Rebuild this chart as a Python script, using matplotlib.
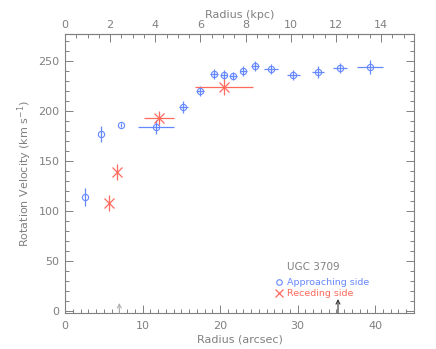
import matplotlib
matplotlib.use('Agg')
import matplotlib.pyplot as plt
from matplotlib.ticker import MultipleLocator

# ---- data ----
appr_r = [2.6, 4.7, 7.2, 11.7, 15.25, 17.4, 19.25, 20.45, 21.65, 23.0, 24.5, 26.55, 29.45, 32.65, 35.45, 39.3]
appr_v = [114, 177, 186, 184, 204, 220, 237, 236, 235, 240, 245, 242, 236, 239, 243, 244]
appr_rerr = [0, 0, 0, 2.3, 0.55, 0.55, 0.5, 0.5, 0.5, 0.5, 0.5, 0.85, 0.85, 0.8, 0.85, 1.7]
appr_verr = [9, 8, 2, 7, 6, 5, 5, 5, 4, 5, 5, 5, 5, 6, 5, 7]

rec_r = [5.7, 6.65, 12.15, 20.5]
rec_v = [108, 139, 193, 224]
rec_rerr = [0, 0, 1.9, 3.75]
rec_verr = [8, 8, 7, 8]

arrow_r = [7.0, 35.2]
arrow_tip = [8, 12]
arrow_colors = ['#b0b0b0', '#333333']

kpc_per_arcsec = 0.3436
galaxy = 'UGC 3709'
labels = ['Approaching side', 'Receding side']

blue = '#6688ff'
red = '#ff6a5c'
gray = '#808080'

fig = plt.figure(figsize=(4.36, 3.49), dpi=100)
ax = fig.add_axes([65/436, 36/349, 349/436, 279/349])

ax.errorbar(appr_r, appr_v, xerr=appr_rerr, yerr=appr_verr, fmt='o', mfc='none',
            mec=blue, ecolor=blue, ms=4.5, mew=0.8, elinewidth=0.9, capsize=0)
ax.errorbar(rec_r, rec_v, xerr=rec_rerr, yerr=rec_verr, fmt='x',
            mec=red, ecolor=red, ms=7, mew=0.9, elinewidth=0.9, capsize=0)

for x, t, c in zip(arrow_r, arrow_tip, arrow_colors):
    ax.annotate('', xy=(x, t), xytext=(x, -2),
                arrowprops=dict(arrowstyle='->', color=c, lw=0.8,
                                shrinkA=0, shrinkB=0, mutation_scale=7))

ax.set_xlim(0, 45)
ax.set_ylim(-2, 277)

for s in ax.spines.values():
    s.set_color(gray)
    s.set_linewidth(0.8)

ax.xaxis.set_major_locator(MultipleLocator(10))
ax.xaxis.set_minor_locator(MultipleLocator(1))
ax.yaxis.set_major_locator(MultipleLocator(50))
ax.yaxis.set_minor_locator(MultipleLocator(10))
ax.tick_params(axis='both', which='both', direction='in', colors=gray,
               labelcolor=gray, labelsize=8, width=0.7)
ax.tick_params(axis='x', which='both', top=False)
ax.tick_params(axis='y', which='both', right=True)
ax.tick_params(which='major', length=6)
ax.tick_params(which='minor', length=3)
ax.tick_params(axis='x', pad=6)
ax.tick_params(axis='y', pad=4)

ax.set_xlabel('Radius (arcsec)', color=gray, fontsize=8, labelpad=2)
ax.set_ylabel('Rotation Velocity (km s$^{-1}$)', color=gray, fontsize=8, labelpad=3)

sec = ax.secondary_xaxis('top', functions=(lambda x: x * kpc_per_arcsec,
                                           lambda x: x / kpc_per_arcsec))
sec.xaxis.set_major_locator(MultipleLocator(2))
sec.xaxis.set_minor_locator(MultipleLocator(0.5))
sec.tick_params(axis='x', which='both', direction='in', colors=gray,
                labelcolor=gray, labelsize=8, width=0.7, pad=3)
sec.tick_params(which='major', length=6)
sec.tick_params(which='minor', length=3)
sec.spines['top'].set_color(gray)
sec.set_xlabel('Radius (kpc)', color=gray, fontsize=8, labelpad=1)

# legend (manual, as in the reference)
ax.text(0.636, 0.165, galaxy, transform=ax.transAxes, color=gray, fontsize=7.5,
        va='center', ha='left')
ax.plot([0.612], [0.111], transform=ax.transAxes, marker='o', mfc='none', mec=blue,
        ms=4, mew=0.8, clip_on=False)
ax.text(0.636, 0.111, labels[0], transform=ax.transAxes, color=blue, fontsize=6.8,
        va='center', ha='left')
ax.plot([0.612], [0.071], transform=ax.transAxes, marker='x', mec=red,
        ms=6, mew=0.9, clip_on=False)
ax.text(0.636, 0.071, labels[1], transform=ax.transAxes, color=red, fontsize=6.8,
        va='center', ha='left')

fig.savefig('out.png', dpi=100)
